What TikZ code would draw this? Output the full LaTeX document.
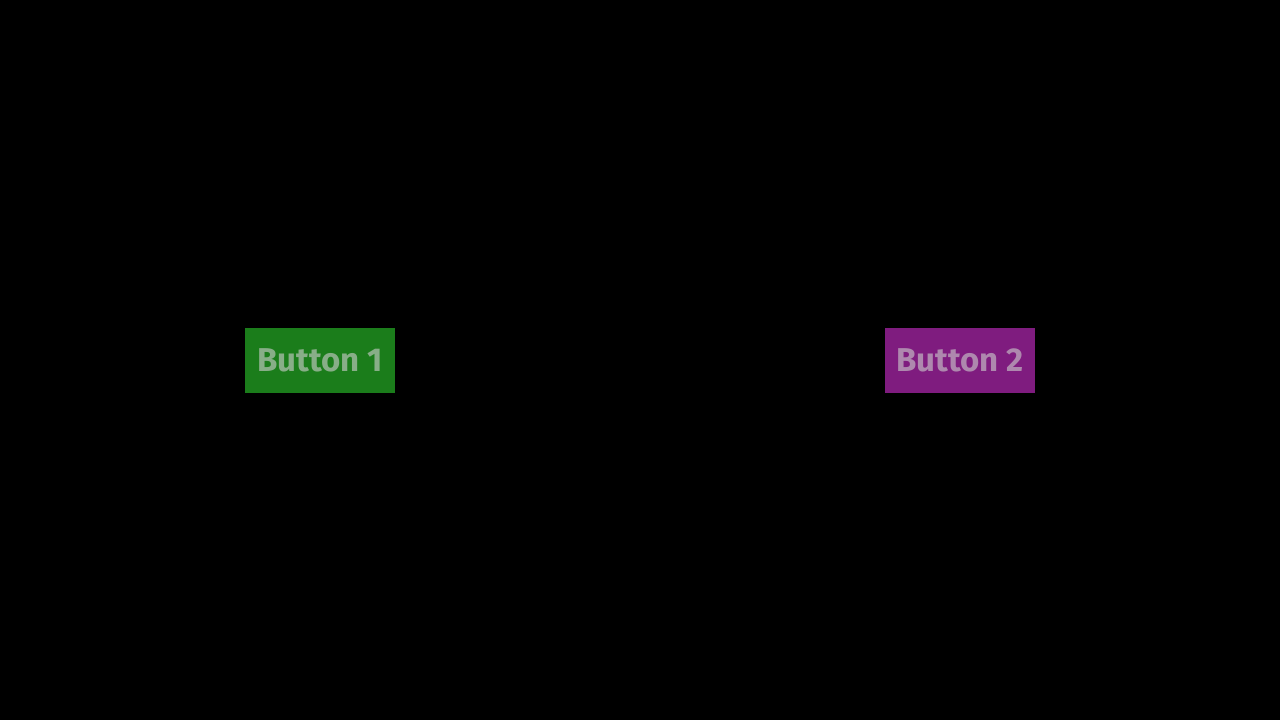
\documentclass[tikz,border=0pt]{standalone}
\usepackage{fontspec}
\setmainfont{Fira Sans}
\definecolor{btngreen}{HTML}{1B7D1B}
\definecolor{btngreentext}{HTML}{88AE88}
\definecolor{btnpurple}{HTML}{7F1C7F}
\definecolor{btnpurpletext}{HTML}{AE88AE}
\tikzset{
  btn/.style={minimum width=150pt, minimum height=65pt, inner sep=0pt,
    text height=22.5pt, text depth=0pt,
    font=\fontsize{33}{38}\selectfont\bfseries}
}
\begin{document}
\begin{tikzpicture}[x=1pt,y=-1pt]
\fill[black] (0,0) rectangle (1280,720);
\useasboundingbox (0,0) rectangle (1280,720);
\node[btn, fill=btngreen, text=btngreentext] (b1) at (320,360.5) {Button 1};
\node[btn, fill=btnpurple, text=btnpurpletext] (b2) at (960,360.5) {Button 2};
\end{tikzpicture}
\end{document}
